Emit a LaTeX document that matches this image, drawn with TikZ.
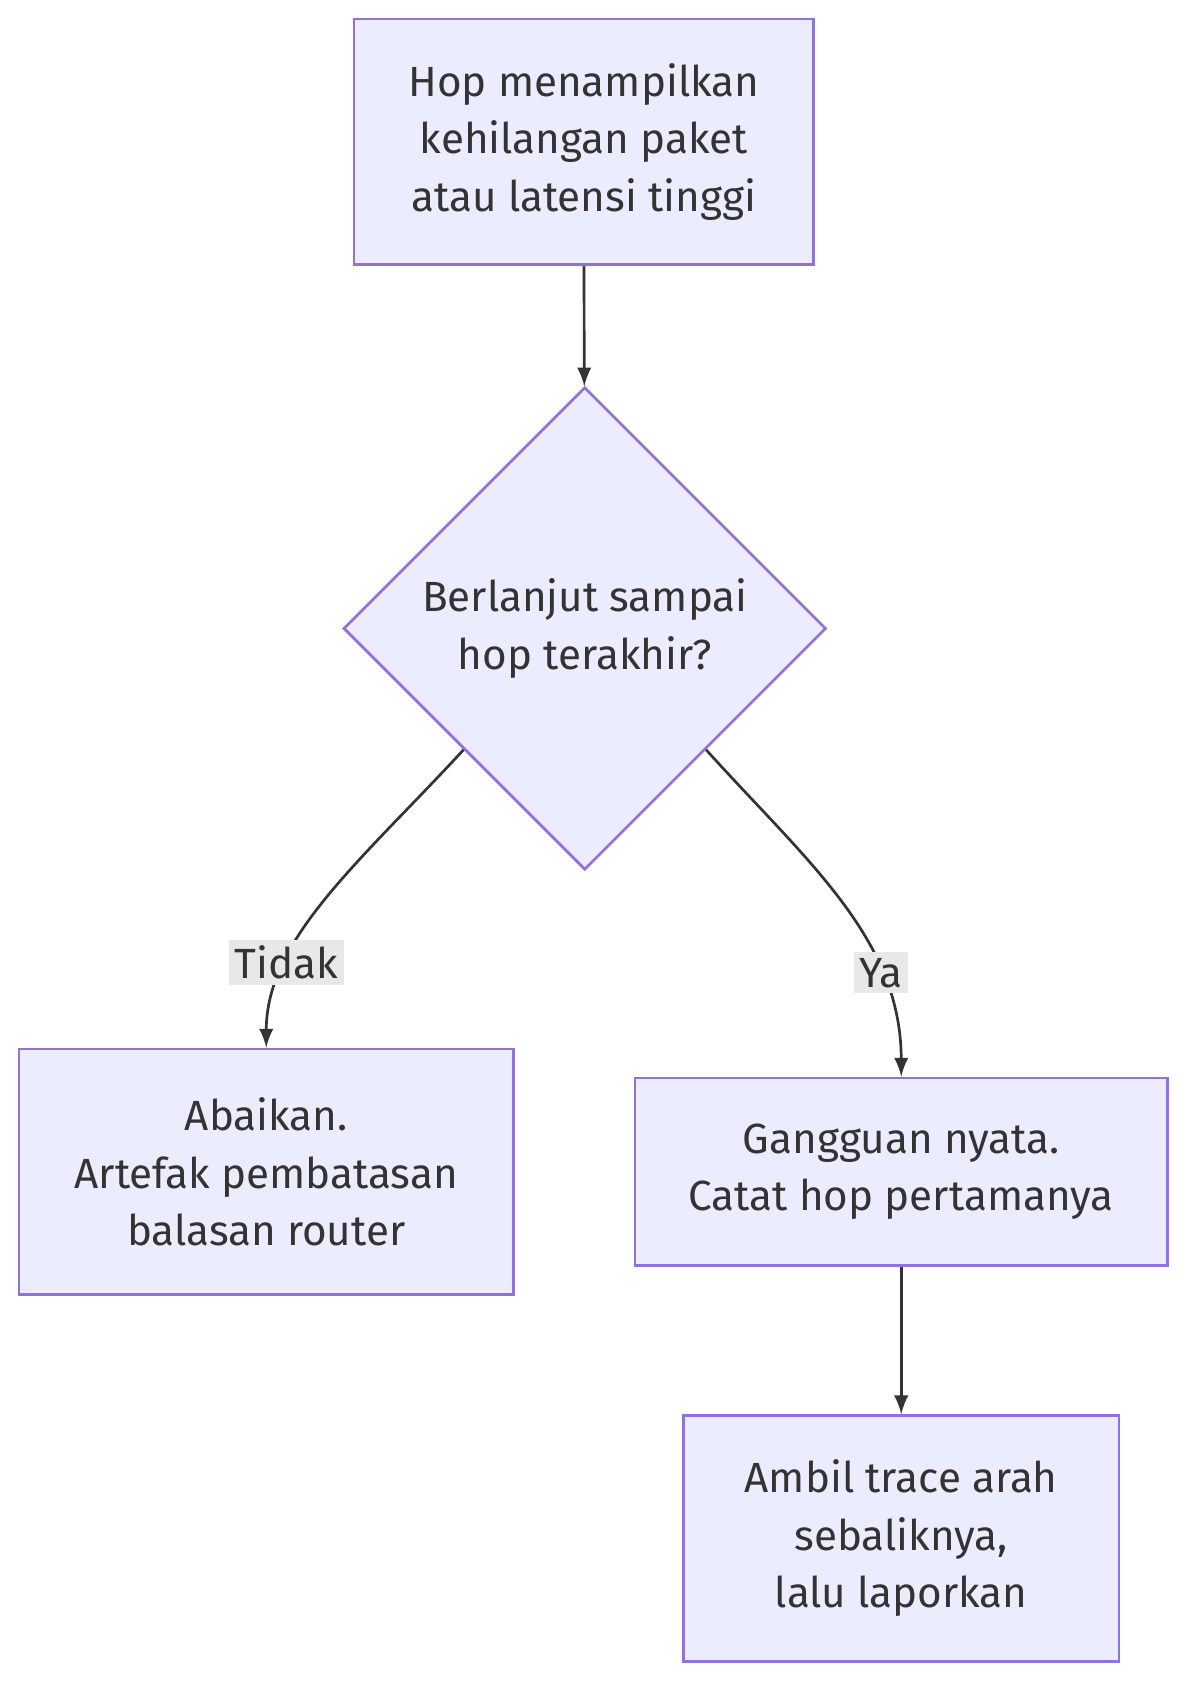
\documentclass[tikz,border=0pt]{standalone}
\usepackage{fontspec}
\setmainfont{Fira Sans}
\usetikzlibrary{shapes.geometric}
\definecolor{boxfill}{HTML}{ECECFF}
\definecolor{boxline}{HTML}{9370DB}
\definecolor{edge}{HTML}{333333}
\definecolor{lblfill}{HTML}{E8E8E8}
\begin{document}
\begin{tikzpicture}[x=0.01cm, y=-0.01cm, every node/.style={font=\fontsize{11}{15}\selectfont, text=edge},
    box/.style={draw=boxline, fill=boxfill, line width=0.7pt, align=center, inner sep=0pt},
    lbl/.style={fill=lblfill, inner sep=1.5pt},
    arr/.style={->, >=latex, draw=edge, line width=0.7pt}]
    \useasboundingbox (0,0) rectangle (1100,1559);
    % boxes
    \node[box, minimum width=4.21cm, minimum height=2.25cm] (hop) at (535,130) {Hop menampilkan\\kehilangan paket\\atau latensi tinggi};
    \node[box, diamond, aspect=1, minimum width=4.42cm, minimum height=4.42cm] (cek) at (536,576) {Berlanjut sampai\\hop terakhir?};
    \node[box, minimum width=4.53cm, minimum height=2.25cm] (abai) at (244,1074) {Abaikan.\\Artefak pembatasan\\balasan router};
    \node[box, minimum width=4.88cm, minimum height=1.72cm] (nyata) at (826,1074) {Gangguan nyata.\\Catat hop pertamanya};
    \node[box, minimum width=3.99cm, minimum height=2.25cm] (ambil) at (826,1410) {Ambil trace arah\\sebaliknya,\\lalu laporkan};
    % connectors
    \draw[arr] (hop) -- (cek);
    \draw[arr] (cek.-135) .. controls (330,790) and (244,860) .. node[lbl, pos=0.72] {Tidak} (abai.north);
    \draw[arr] (cek.-45) .. controls (740,790) and (826,860) .. node[lbl, pos=0.72] {Ya} (nyata.north);
    \draw[arr] (nyata) -- (ambil);
\end{tikzpicture}
\end{document}
